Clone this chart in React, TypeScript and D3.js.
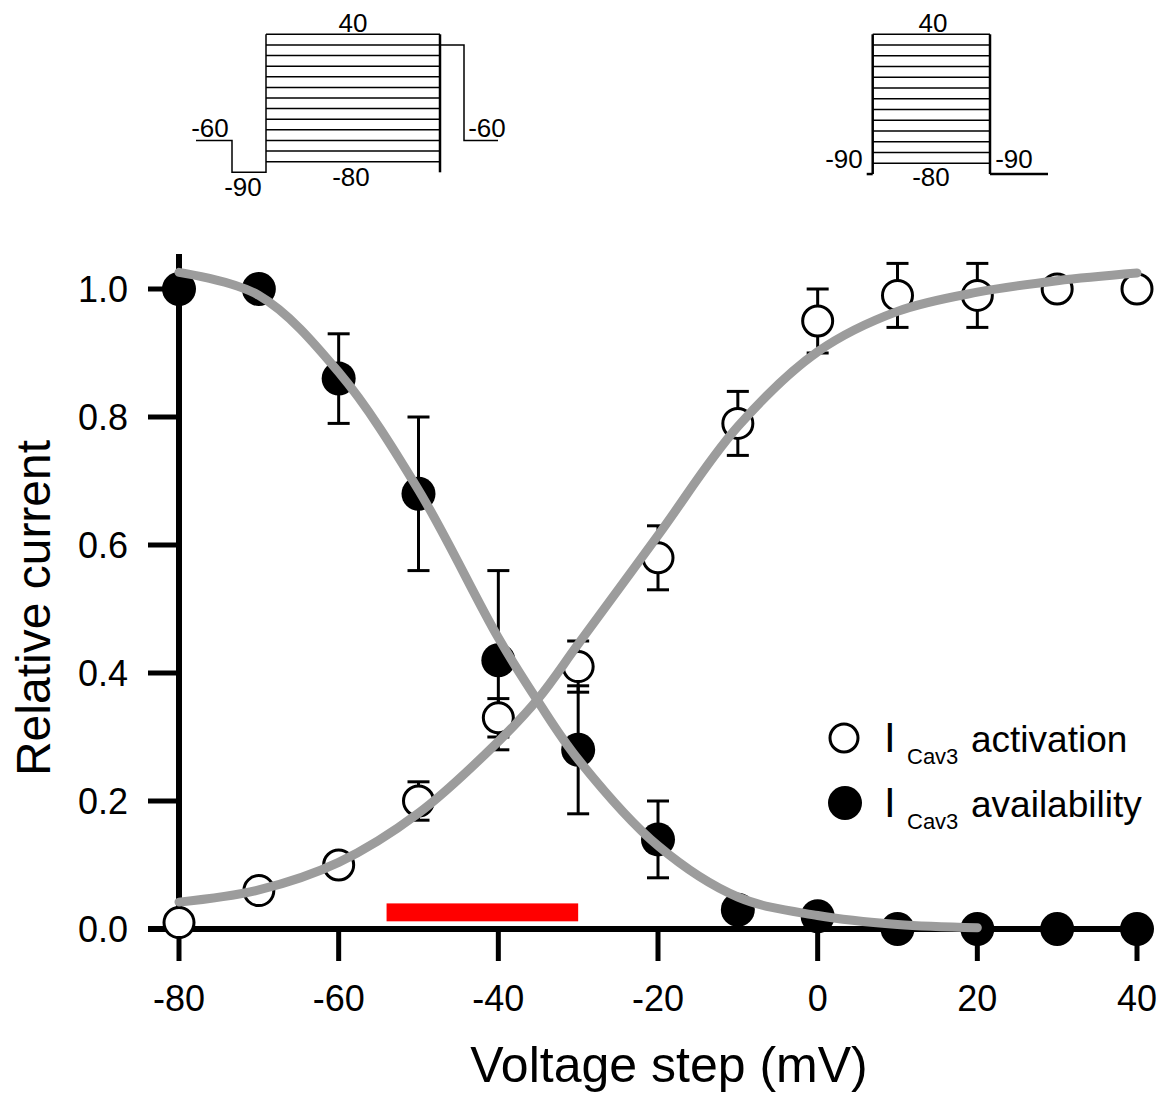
import React from 'react'
import * as d3 from 'd3'

// measured points (mV, relative current)
const voltages = [-80, -70, -60, -50, -40, -30, -20, -10, 0, 10, 20, 30, 40]
const activation = [0.01, 0.06, 0.1, 0.2, 0.33, 0.41, 0.58, 0.79, 0.95, 0.99, 0.99, 1.0, 1.0]
const activationErr = [0, 0, 0, 0.03, 0.03, 0.04, 0.05, 0.05, 0.05, 0.05, 0.05, 0, 0]
const availability = [1.0, 1.0, 0.86, 0.68, 0.42, 0.28, 0.14, 0.03, 0.02, 0, 0, 0, 0]
const availabilityErr = [0, 0, 0.07, 0.12, 0.14, 0.1, 0.06, 0, 0, 0, 0, 0, 0]

// fitted curves
const actFitV = [-80, -70, -60, -50, -40, -35, -30, -20, -10, 0, 10, 20, 30, 40]
const actFit = [0.042, 0.061, 0.104, 0.181, 0.293, 0.36, 0.445, 0.615, 0.785, 0.902, 0.965, 0.995, 1.013, 1.025]
const availFitV = [-80, -70, -60, -50, -40, -35, -30, -20, -10, 0, 10, 20]
const availFit = [1.026, 0.99, 0.87, 0.686, 0.455, 0.355, 0.265, 0.13, 0.05, 0.021, 0.007, 0.002]

// window current range (red bar)
const windowRange = [-54, -30]
const windowLevel = [0.012, 0.04]

const xTicks = [-80, -60, -40, -20, 0, 20, 40]
const yTicks = [0, 0.2, 0.4, 0.6, 0.8, 1.0]

const legendItems = [
  { label: 'activation', filled: false },
  { label: 'availability', filled: true }
]

// voltage protocol steps for the insets
const protocolSteps = [-80, -70, -60, -50, -40, -30, -20, -10, 0, 10, 20, 30, 40]

const FONT = '"Liberation Sans", Arial, sans-serif'
const GREY = '#9c9c9c'

export default function App () {
  const x = d3.scaleLinear().domain([-80, 40]).range([179, 1137])
  const y = d3.scaleLinear().domain([0, 1]).range([929, 289])

  const fitLine = d3.line<[number, number]>()
    .x(d => x(d[0]))
    .y(d => y(d[1]))
    .curve(d3.curveCatmullRom.alpha(0.5))

  const actPath = fitLine(actFitV.map((v, i) => [v, actFit[i]]) as [number, number][])
  const availPath = fitLine(availFitV.map((v, i) => [v, availFit[i]]) as [number, number][])

  // inset scales
  const p1 = d3.scaleLinear().domain([-80, 40]).range([161.7, 34.3])
  const p2 = d3.scaleLinear().domain([-80, 40]).range([163.3, 34.3])

  const errBars = (vals: number[], errs: number[]) =>
    voltages.map((v, i) => errs[i] > 0 && (
      <g key={'e' + v} stroke='#000' strokeWidth={3}>
        <line x1={x(v)} x2={x(v)} y1={y(vals[i] + errs[i])} y2={y(vals[i] - errs[i])} />
        <line x1={x(v) - 11} x2={x(v) + 11} y1={y(vals[i] + errs[i])} y2={y(vals[i] + errs[i])} />
        <line x1={x(v) - 11} x2={x(v) + 11} y1={y(vals[i] - errs[i])} y2={y(vals[i] - errs[i])} />
      </g>
    ))

  return (
    <svg width={1165} height={1103} style={{ position: 'absolute', left: 0, top: 0, background: '#fff' }}
      fontFamily={FONT}>
      {/* inset 1: availability protocol */}
      <g stroke='#000' strokeWidth={1.5} fill='none'>
        <path d={`M196,${p1(-60)}H232V${p1(-90)}H266V${p1(40)}`} />
        {protocolSteps.map(s => <line key={'a' + s} x1={266} x2={440} y1={p1(s)} y2={p1(s)} />)}
        <line x1={440} x2={440} y1={p1(40)} y2={p1(-90)} strokeWidth={2.5} />
        <path d={`M440,${p1(30)}H464V${p1(-60)}H498`} />
      </g>
      <g fontSize={26} fill='#000'>
        <text x={353} y={32} textAnchor='middle'>40</text>
        <text x={210} y={137} textAnchor='middle'>-60</text>
        <text x={487} y={137} textAnchor='middle'>-60</text>
        <text x={243} y={196} textAnchor='middle'>-90</text>
        <text x={351} y={186} textAnchor='middle'>-80</text>
      </g>

      {/* inset 2: activation protocol */}
      <g stroke='#000' strokeWidth={1.5} fill='none'>
        {protocolSteps.map(s => <line key={'b' + s} x1={872.7} x2={990} y1={p2(s)} y2={p2(s)} />)}
        <line x1={872.7} x2={872.7} y1={p2(40)} y2={p2(-90)} strokeWidth={2.5} />
        <line x1={990} x2={990} y1={p2(40)} y2={p2(-90)} strokeWidth={2.5} />
        <line x1={866.7} x2={872.7} y1={p2(-90)} y2={p2(-90)} strokeWidth={2.5} />
        <line x1={990} x2={1048} y1={p2(-90)} y2={p2(-90)} strokeWidth={2.5} />
      </g>
      <g fontSize={26} fill='#000'>
        <text x={933} y={32} textAnchor='middle'>40</text>
        <text x={844} y={168} textAnchor='middle'>-90</text>
        <text x={1014} y={168} textAnchor='middle'>-90</text>
        <text x={931} y={186} textAnchor='middle'>-80</text>
      </g>

      {/* axes */}
      <g stroke='#000'>
        <line x1={179} x2={179} y1={254} y2={929} strokeWidth={6} />
        <line x1={148} x2={1153} y1={929} y2={929} strokeWidth={6} />
        {yTicks.map(t => <line key={'yt' + t} x1={148} x2={179} y1={y(t)} y2={y(t)} strokeWidth={5} />)}
        {xTicks.map(t => <line key={'xt' + t} x1={x(t)} x2={x(t)} y1={929} y2={961} strokeWidth={5} />)}
      </g>
      <g fontSize={36} fill='#000'>
        {yTicks.map(t => (
          <text key={'yl' + t} x={128} y={y(t)} dy='0.35em' textAnchor='end'>{d3.format('.1f')(t)}</text>
        ))}
        {xTicks.map(t => (
          <text key={'xl' + t} x={x(t)} y={1011} textAnchor='middle'>{t}</text>
        ))}
      </g>
      <text x={669} y={1082} fontSize={50} textAnchor='middle'>Voltage step (mV)</text>
      <text transform='translate(50,608) rotate(-90)' fontSize={48} textAnchor='middle'>Relative current</text>

      {/* window current */}
      <rect x={x(windowRange[0])} width={x(windowRange[1]) - x(windowRange[0])}
        y={y(windowLevel[1])} height={y(windowLevel[0]) - y(windowLevel[1])} fill='#ff0000' />

      {errBars(activation, activationErr)}
      {errBars(availability, availabilityErr)}

      {voltages.map((v, i) => (
        <circle key={'o' + v} cx={x(v)} cy={y(activation[i])} r={15} fill='#fff' stroke='#000' strokeWidth={3} />
      ))}
      {voltages.map((v, i) => (
        <circle key={'f' + v} cx={x(v)} cy={y(availability[i])} r={17} fill='#000' />
      ))}

      <path d={actPath ?? ''} fill='none' stroke={GREY} strokeWidth={9} strokeLinecap='round' />
      <path d={availPath ?? ''} fill='none' stroke={GREY} strokeWidth={9} strokeLinecap='round' />

      {/* legend */}
      {legendItems.map((item, i) => {
        const cy = 738 + i * 65
        return (
          <g key={item.label}>
            {item.filled
              ? <circle cx={845} cy={cy} r={17} fill='#000' />
              : <circle cx={844} cy={cy} r={14} fill='#fff' stroke='#000' strokeWidth={3} />}
            <text x={884} y={cy + 14} fontSize={42}>I</text>
            <text x={907} y={cy + 26} fontSize={22}>Cav3</text>
            <text x={971} y={cy + 14} fontSize={37}>{item.label}</text>
          </g>
        )
      })}
    </svg>
  )
}
